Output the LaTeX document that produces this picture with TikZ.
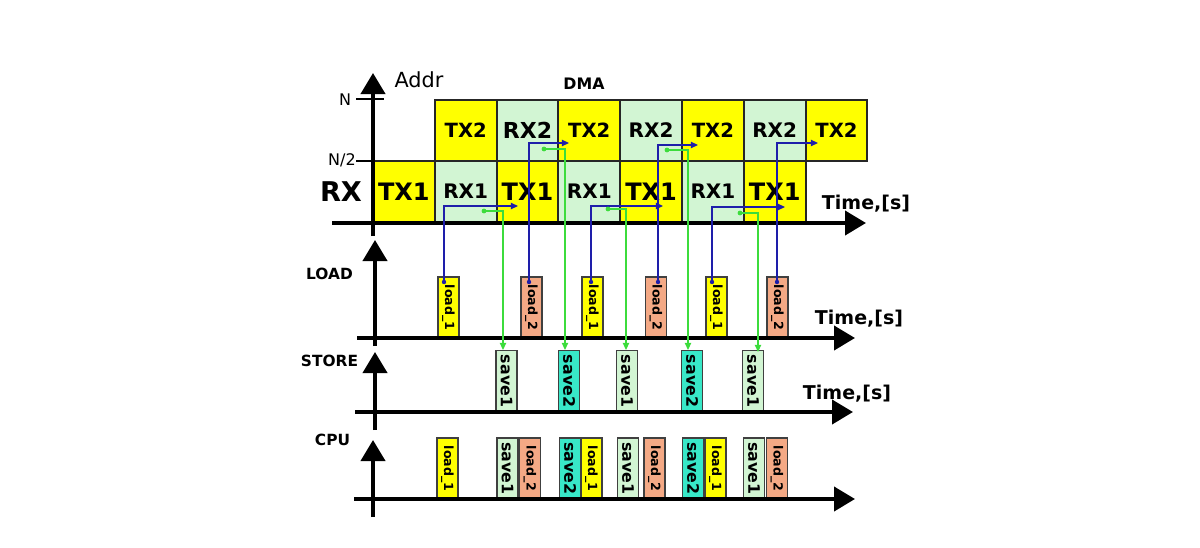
\documentclass[tikz,border=0pt]{standalone}
\usepackage{fontspec}
\setmainfont{DejaVu Sans}
\usetikzlibrary{arrows.meta}
\definecolor{dyellow}{HTML}{FFFF00}
\definecolor{dgreen}{HTML}{D2F5D3}
\definecolor{dsalmon}{HTML}{F4A985}
\definecolor{dturq}{HTML}{38E8C8}
\definecolor{lblue}{HTML}{1E1EAA}
\definecolor{lgreen}{HTML}{3CDC3C}
\newcommand{\fs}[1]{\fontsize{#1}{#1}\selectfont}
\tikzset{
  dmabox/.style={draw=black!85, line width=1pt, minimum width=30.9pt, minimum height=30.5pt, inner sep=0pt},
  txc/.style={fill=dyellow},
  rxc/.style={fill=dgreen},
  tallbox/.style={draw=black!75, line width=0.6pt, minimum width=30.5pt, minimum height=10.5pt, inner sep=0pt, rotate=-90},
  ldone/.style={tallbox, fill=dyellow, font=\bfseries\fs{6.3}},
  ldtwo/.style={tallbox, fill=dsalmon, font=\bfseries\fs{6.3}},
  svone/.style={tallbox, fill=dgreen, font=\bfseries\fs{7.9}},
  svtwo/.style={tallbox, fill=dturq, font=\bfseries\fs{7.9}},
  axis/.style={line width=2pt, -{Triangle[width=12pt,length=10.5pt]}},
  tick/.style={line width=0.6pt},
  bluec/.style={lblue, line width=0.6pt, -{Triangle[width=3.2pt,length=3.6pt]}},
  greenc/.style={lgreen, line width=0.6pt, -{Triangle[width=3.2pt,length=3.6pt]}},
  lbl/.style={font=\bfseries\fs{7.7}, inner sep=0pt},
  timel/.style={font=\bfseries\fs{9.5}, inner sep=0pt},
}
\begin{document}
\begin{tikzpicture}[x=0.5pt,y=-0.5pt]
\useasboundingbox (0,0) rectangle (1200,547);
% ---------- DMA boxes ----------
\node[dmabox,txc,font=\bfseries\fs{12}] (a0) at (403.9,191.5) {TX1};
\node[dmabox,rxc,font=\bfseries\fs{10}] (a1) at (465.7,191.5) {RX1};
\node[dmabox,txc,font=\bfseries\fs{12}] (a2) at (527.5,191.5) {TX1};
\node[dmabox,rxc,font=\bfseries\fs{10}] (a3) at (589.3,191.5) {RX1};
\node[dmabox,txc,font=\bfseries\fs{12}] (a4) at (651.1,191.5) {TX1};
\node[dmabox,rxc,font=\bfseries\fs{10}] (a5) at (712.9,191.5) {RX1};
\node[dmabox,txc,font=\bfseries\fs{12}] (a6) at (774.7,191.5) {TX1};
\node[dmabox,txc,font=\bfseries\fs{9.8}] (b1) at (465.7,130.5) {TX2};
\node[dmabox,rxc,font=\bfseries\fs{11}] (b2) at (527.5,130.5) {RX2};
\node[dmabox,txc,font=\bfseries\fs{9.8}] (b3) at (589.3,130.5) {TX2};
\node[dmabox,rxc,font=\bfseries\fs{10}] (b4) at (651.1,130.5) {RX2};
\node[dmabox,txc,font=\bfseries\fs{9.8}] (b5) at (712.9,130.5) {TX2};
\node[dmabox,rxc,font=\bfseries\fs{10}] (b6) at (774.7,130.5) {RX2};
\node[dmabox,txc,font=\bfseries\fs{9.8}] (b7) at (836.5,130.5) {TX2};
% ---------- LOAD boxes ----------
\node[ldone] (L1) at (448.5,307.5) {load\_1};
\node[ldtwo] (L2) at (531.5,307.5) {load\_2};
\node[ldone] (L3) at (592.5,307.5) {load\_1};
\node[ldtwo] (L4) at (656,307.5) {load\_2};
\node[ldone] (L5) at (716.5,307.5) {load\_1};
\node[ldtwo] (L6) at (777.5,307.5) {load\_2};
% ---------- STORE boxes ----------
\node[svone] (S1) at (506.5,381) {save1};
\node[svtwo] (S2) at (569,381) {save2};
\node[svone] (S3) at (627,381) {save1};
\node[svtwo] (S4) at (692,381) {save2};
\node[svone] (S5) at (753,381) {save1};
% ---------- CPU boxes ----------
\node[ldone] (C1) at (447.5,468.5) {load\_1};
\node[svone] (C2) at (507.5,468.5) {save1};
\node[ldtwo] (C3) at (530,468.5) {load\_2};
\node[svtwo] (C4) at (570,468.5) {save2};
\node[ldone] (C5) at (591.5,468.5) {load\_1};
\node[svone] (C6) at (628,468.5) {save1};
\node[ldtwo] (C7) at (654.5,468.5) {load\_2};
\node[svtwo] (C8) at (693,468.5) {save2};
\node[ldone] (C9) at (715.5,468.5) {load\_1};
\node[svone] (C10) at (754,468.5) {save1};
\node[ldtwo] (C11) at (777,468.5) {load\_2};
% ---------- axes ----------
\coordinate (dmaB) at (373,236); \coordinate (dmaT) at (373,73);
\coordinate (dmaL) at (332,223); \coordinate (dmaR) at (866,223);
\draw[axis] (dmaB) -- (dmaT);
\draw[axis] (dmaL) -- (dmaR);
\coordinate (ldB) at (375,346); \coordinate (ldT) at (375,240);
\coordinate (ldL) at (357,338); \coordinate (ldR) at (855,338);
\draw[axis] (ldB) -- (ldT);
\draw[axis] (ldL) -- (ldR);
\coordinate (stB) at (375,430); \coordinate (stT) at (375,352);
\coordinate (stL) at (355,412); \coordinate (stR) at (853,412);
\draw[axis] (stB) -- (stT);
\draw[axis] (stL) -- (stR);
\coordinate (cpB) at (373,517); \coordinate (cpT) at (373,440);
\coordinate (cpL) at (354,499); \coordinate (cpR) at (855,499);
\draw[axis] (cpB) -- (cpT);
\draw[axis] (cpL) -- (cpR);
% ticks
\coordinate (nA) at (356,99); \coordinate (nB) at (384,99);
\draw[tick] (nA) -- (nB);
\coordinate (hA) at (356,161); \coordinate (hB) at (373,161);
\draw[tick] (hA) -- (hB);
% ---------- labels ----------
\node[font=\fs{10.4}, inner sep=0pt] (addr) at (419,80) {Addr};
\node[font=\fs{8}, inner sep=0pt] (nl) at (345,100) {N};
\node[font=\fs{8}, inner sep=0pt] (hl) at (342,160) {N/2};
\node[font=\bfseries\fs{13.6}, inner sep=0pt] (rxl) at (341,192) {RX};
\node[font=\bfseries\fs{7.9}, inner sep=0pt] (dmal) at (584,84) {DMA};
\node[timel] (t1) at (866,204) {Time,[s]};
\node[timel] (t2) at (859,319) {Time,[s]};
\node[timel] (t3) at (847,394) {Time,[s]};
\node[lbl] (loadl) at (329.5,274) {LOAD};
\node[lbl] (storel) at (329.5,361) {STORE};
\node[lbl] (cpul) at (332.5,440) {CPU};
% ---------- blue connectors ----------
\coordinate (p1) at (444,282); \coordinate (q1) at (518,206);
\coordinate (p2) at (529,282); \coordinate (q2) at (569,143);
\coordinate (p3) at (591,282); \coordinate (q3) at (663,206);
\coordinate (p4) at (658,282); \coordinate (q4) at (698,145);
\coordinate (p5) at (712,282); \coordinate (q5) at (785,207);
\coordinate (p6) at (777,282); \coordinate (q6) at (818,143);
\foreach \i in {1,...,6}{
  \draw[bluec] (p\i) |- (q\i);
  \fill[lblue] (p\i) circle (1.1pt);
}
% ---------- green connectors ----------
\coordinate (g1) at (484,211); \coordinate (h1) at (503,350);
\coordinate (g2) at (544,149); \coordinate (h2) at (565,350);
\coordinate (g3) at (608,209); \coordinate (h3) at (626,350);
\coordinate (g4) at (667,150); \coordinate (h4) at (688,350);
\coordinate (g5) at (740,213); \coordinate (h5) at (758,352);
\foreach \i in {1,...,5}{
  \draw[greenc] (g\i) -| (h\i);
  \fill[lgreen] (g\i) circle (1.2pt);
}
\end{tikzpicture}
\end{document}
